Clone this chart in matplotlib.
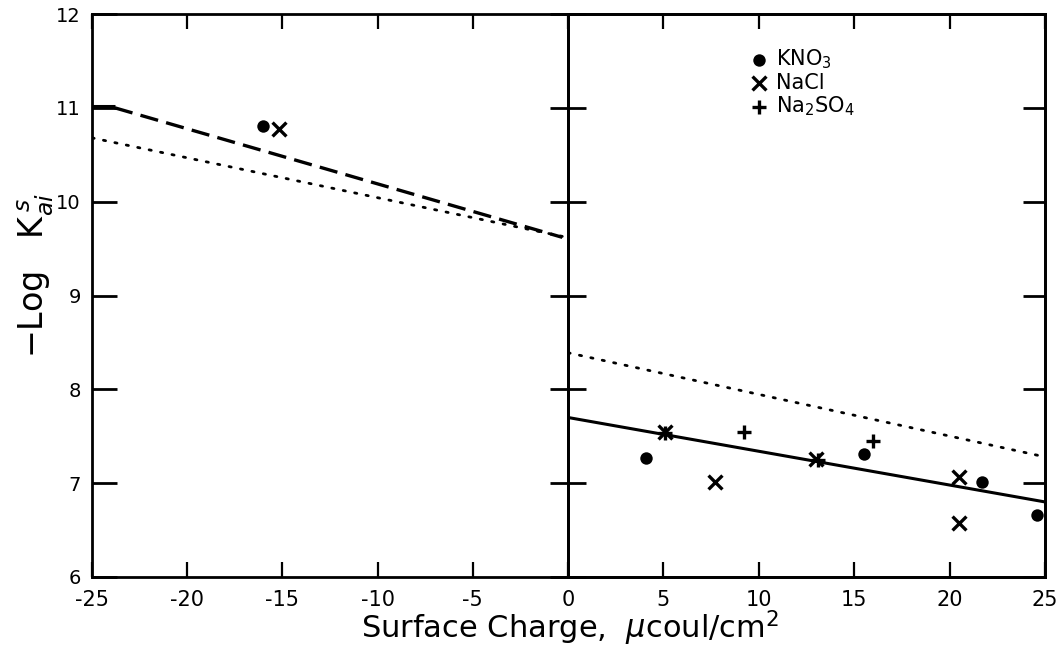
import matplotlib
matplotlib.use("Agg")
import matplotlib.pyplot as plt

plt.rcParams["font.family"] = ["DejaVu Sans"]
plt.rcParams["mathtext.fontset"] = "dejavusans"
plt.rcParams["xtick.direction"] = "in"
plt.rcParams["ytick.direction"] = "in"

# Negative surface charge branch
neg_kno3_x = [-16.0]
neg_kno3_y = [10.81]
neg_nacl_x = [-15.2]
neg_nacl_y = [10.77]
neg_step_x = [-25.0, -23.8]
neg_step_y = [11.02, 11.02]
neg_dash_x = [-23.8, -0.3]
neg_dash_y = [11.0, 9.62]
neg_dot_x = [-25.0, -0.3]
neg_dot_y = [10.68, 9.63]

# Positive surface charge branch
pos_kno3_x = [4.1, 15.5, 21.7, 24.6]
pos_kno3_y = [7.27, 7.31, 7.01, 6.66]
pos_nacl_x = [5.1, 7.7, 13.0, 20.5, 20.5]
pos_nacl_y = [7.54, 7.01, 7.26, 7.07, 6.58]
pos_na2so4_x = [5.1, 9.2, 13.1, 16.0]
pos_na2so4_y = [7.53, 7.54, 7.25, 7.45]
pos_fit_x = [0.0, 25.0]
pos_fit_y = [7.70, 6.80]
pos_dot_x = [0.0, 25.0]
pos_dot_y = [8.39, 7.28]

neg_ticks = [-25, -20, -15, -10, -5]
pos_ticks = [0, 5, 10, 15, 20, 25]
y_ticks = [6, 7, 8, 9, 10, 11, 12]

fig = plt.figure(figsize=(10.64, 6.58), dpi=100)
axl = fig.add_axes([92 / 1064, 1 - 577 / 658, 476 / 1064, 563 / 658])
axr = fig.add_axes([568 / 1064, 1 - 577 / 658, 477 / 1064, 563 / 658])
axr2 = axr.twinx()

for ax in (axl, axr, axr2):
    for s in ax.spines.values():
        s.set_linewidth(2.0)
    ax.set_ylim(6, 12)
    ax.set_yticks(y_ticks)

axl.set_xlim(-25, 0)
axr.set_xlim(0, 25)
axl.set_xticks(neg_ticks)
axr.set_xticks(pos_ticks)
axl.set_xticklabels([str(t) for t in neg_ticks])
axr.set_xticklabels([str(t) for t in pos_ticks])
axl.set_yticklabels([str(t) for t in y_ticks])

# Outer left spine: long inward ticks
axl.tick_params(axis="y", direction="in", left=True, right=False,
                length=18, width=2.0, labelsize=14, pad=8)
# Shared middle line: ticks crossing both sides
axr.tick_params(axis="y", direction="inout", left=True, right=False,
                labelleft=False, length=26, width=2.0)
# Outer right spine: inward ticks
axr2.tick_params(axis="y", direction="in", left=False, right=True,
                 labelright=False, length=16, width=2.0)
for ax in (axl, axr):
    ax.tick_params(axis="x", direction="in", top=True, bottom=True, length=11,
                   width=1.6, labelsize=15, pad=9)

# Curves
axl.plot(neg_step_x, neg_step_y, color="black", lw=2.2, solid_capstyle="butt")
axl.plot(neg_dash_x, neg_dash_y, color="black", lw=2.4, dashes=(5.5, 2.5))
axl.plot(neg_dot_x, neg_dot_y, color="black", lw=2.0, dashes=(0.8, 3.4),
         dash_capstyle="round")
axr.plot(pos_fit_x, pos_fit_y, color="black", lw=2.2)
axr.plot(pos_dot_x, pos_dot_y, color="black", lw=2.0, dashes=(0.8, 3.4),
         dash_capstyle="round")

# Data points
dot_kw = dict(marker="o", color="black", s=80, linewidths=0, zorder=3)
x_kw = dict(marker="x", color="black", s=100, linewidths=2.4, zorder=3)
plus_kw = dict(marker="+", color="black", s=110, linewidths=2.4, zorder=3)

axl.scatter(neg_kno3_x, neg_kno3_y, **dot_kw)
axl.scatter(neg_nacl_x, neg_nacl_y, **x_kw)
axr.scatter(pos_kno3_x, pos_kno3_y, label="KNO$_3$", **dot_kw)
axr.scatter(pos_nacl_x, pos_nacl_y, label="NaCl", **x_kw)
axr.scatter(pos_na2so4_x, pos_na2so4_y, label="Na$_2$SO$_4$", **plus_kw)

axr.legend(loc="upper left", bbox_to_anchor=(0.362, 0.955), frameon=False,
           fontsize=15, handletextpad=0.3, labelspacing=0.08,
           borderaxespad=0, handlelength=1.0, scatterpoints=1)

fig.text(570 / 1064, 1 - 628 / 658, r"Surface Charge,  $\mu$coul/cm$^2$",
         ha="center", va="center", fontsize=22)
fig.text(36 / 1064, 1 - 276 / 658, r"$-$Log   K$_{ai}^{\,s}$", rotation=90,
         ha="center", va="center", fontsize=24)

fig.savefig("out.png", dpi=100)
